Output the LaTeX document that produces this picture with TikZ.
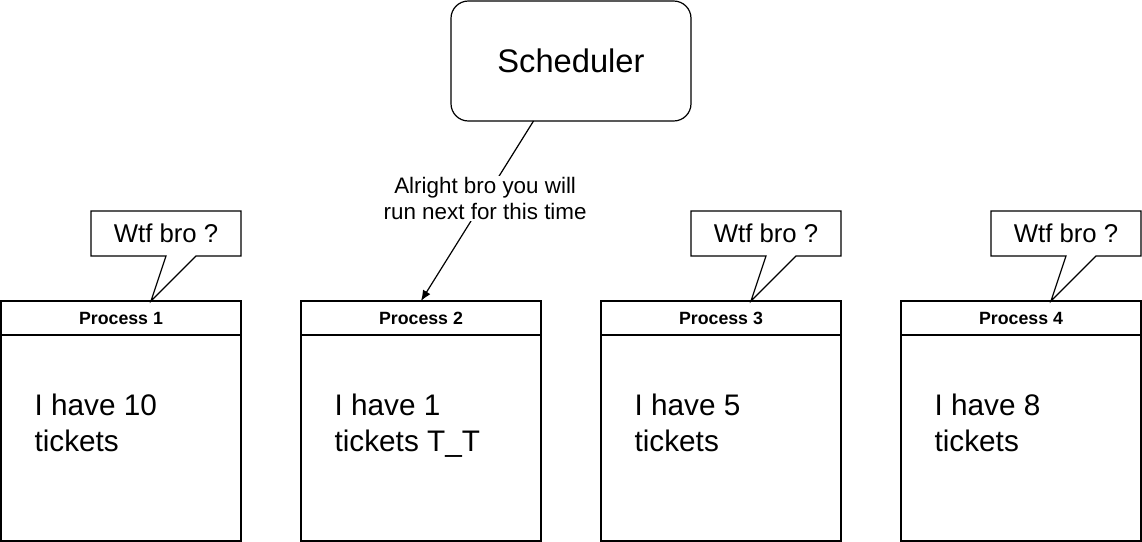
\documentclass[tikz,border=0pt]{standalone}
\usepackage{fontspec}
\setmainfont{Liberation Sans}
\usetikzlibrary{positioning, calc, arrows.meta}

\begin{document}
\begin{tikzpicture}[x=0.75pt, y=-0.75pt, line width=0.9pt,
    head/.style={draw, minimum width=180pt, minimum height=25.5pt, inner sep=0pt, outer sep=0pt, font=\fontsize{13.3}{16}\selectfont\bfseries},
    body/.style={draw, minimum width=180pt, minimum height=154.5pt, inner sep=0pt, outer sep=0pt},
    tickets/.style={inner sep=0pt, align=left, font=\fontsize{22.3}{27}\selectfont},
    bubble/.style={minimum width=112.5pt, minimum height=33.75pt, inner sep=0pt, outer sep=0pt, font=\fontsize{19.3}{23}\selectfont},
    talk/.style={fill=white, inner sep=1pt, align=center, font=\fontsize{16.8}{19.5}\selectfont}]
    \useasboundingbox[fill=white] (0,0) rectangle (1142,542);

    \node[draw, rounded corners=13pt, minimum width=180pt, minimum height=90pt, outer sep=0pt, font=\fontsize{24.5}{29}\selectfont] (S) at (571,61) {Scheduler};

    % processes
    \node[head, anchor=north west] (H1) at (1,301) {Process 1};
    \node[head, right=45pt of H1] (H2) {Process 2};
    \node[head, right=45pt of H2] (H3) {Process 3};
    \node[head, right=45pt of H3] (H4) {Process 4};
    \node[body, below=0pt of H1] (B1) {};
    \node[body, below=0pt of H2] (B2) {};
    \node[body, below=0pt of H3] (B3) {};
    \node[body, below=0pt of H4] (B4) {};

    \node[tickets, below right=43.5pt and 24.75pt of B1.north west] (T1) {I have 10\\tickets};
    \node[tickets, below right=43.5pt and 24.75pt of B2.north west] (T2) {I have 1\\tickets T\_T};
    \node[tickets, below right=43.5pt and 24.75pt of B3.north west] (T3) {I have 5\\tickets};
    \node[tickets, below right=43.5pt and 24.75pt of B4.north west] (T4) {I have 8\\tickets};

    % complaints
    \node[bubble, above left=33.75pt and 0pt of H1.north east] (W1) {Wtf bro ?};
    \node[bubble, above left=33.75pt and 0pt of H3.north east] (W3) {Wtf bro ?};
    \node[bubble, above left=33.75pt and 0pt of H4.north east] (W4) {Wtf bro ?};
    \draw (W1.north west) -- (W1.north east) -- (W1.south east) -- ($(W1.south west)+(105,0)$)
        -- ($(H1.north west)+(150,0)$) -- ($(W1.south west)+(75,0)$) -- (W1.south west) -- cycle;
    \draw (W3.north west) -- (W3.north east) -- (W3.south east) -- ($(W3.south west)+(105,0)$)
        -- ($(H3.north west)+(150,0)$) -- ($(W3.south west)+(75,0)$) -- (W3.south west) -- cycle;
    \draw (W4.north west) -- (W4.north east) -- (W4.south east) -- ($(W4.south west)+(105,0)$)
        -- ($(H4.north west)+(150,0)$) -- ($(W4.south west)+(75,0)$) -- (W4.south west) -- cycle;

    \draw[-{Latex[length=8pt, width=6.5pt]}] (S) -- node[talk, pos=0.43] (A) {Alright bro you will\\run next for this time} (H2.north);
\end{tikzpicture}
\end{document}
